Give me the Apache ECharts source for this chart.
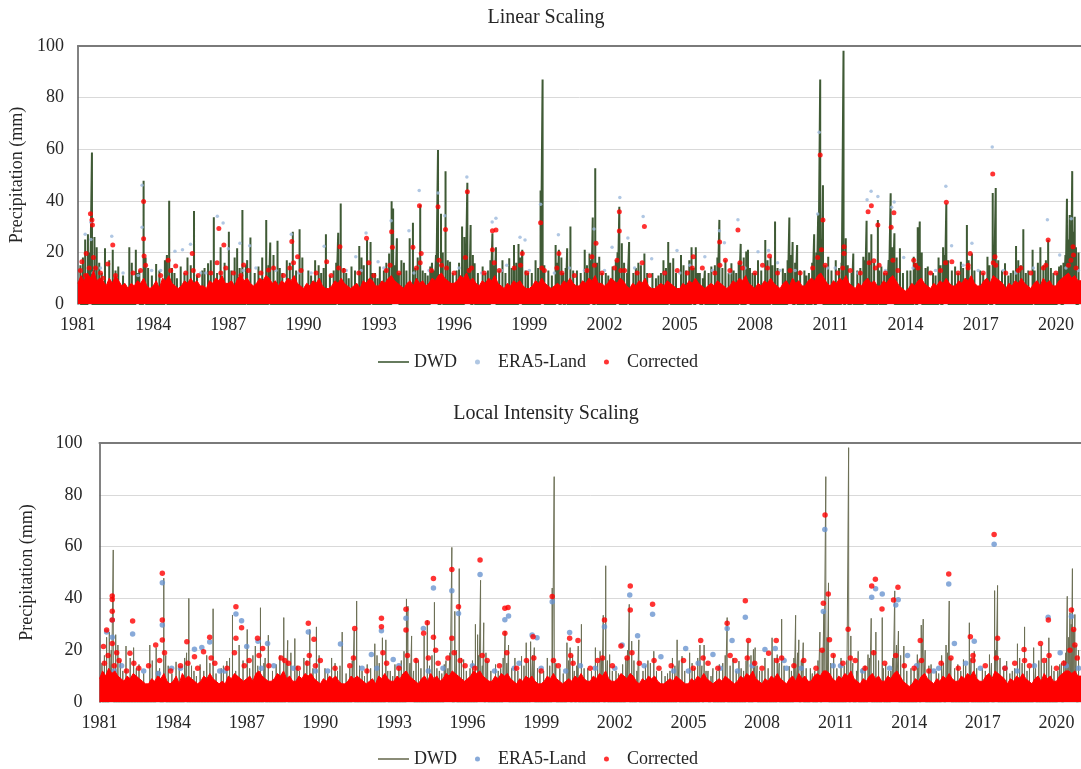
<!DOCTYPE html>
<html>
<head>
<meta charset="utf-8">
<script src="https://cdn.jsdelivr.net/npm/echarts@6/dist/echarts.min.js"></script>
<style>
  html, body { margin: 0; padding: 0; background: #fff; }
  #chart { width: 1081px; height: 769px; }
</style>
</head>
<body>
<div id="chart"></div>
<script>
// x values are years since 1 Jan 1981
const firstYear = 1981

// DWD station daily precipitation, the tall spikes [t, mm]
const dwd = [
  [0.29, 25], [0.40, 27], [0.56, 58.7], [0.66, 26], [0.75, 22], [1.08, 21.6], [1.39, 21], [1.61, 14.5],
  [2.05, 22], [2.31, 21], [2.45, 13], [2.62, 47.8], [2.8, 14], [3.12, 15.5], [3.47, 17], [3.64, 40],
  [3.85, 12], [4.1, 14.5], [4.37, 18], [4.63, 36], [4.96, 13], [5.19, 15.8], [5.42, 33.6], [5.69, 22],
  [6.02, 28], [6.35, 21.6], [6.56, 36.4], [6.7, 15], [6.88, 25.8], [7.2, 14.5], [7.51, 32.6], [7.67, 23.8],
  [7.96, 24.5], [8.15, 12], [8.33, 17], [8.57, 28], [8.84, 29], [9.19, 13], [9.46, 17], [9.7, 12],
  [9.89, 27], [10.2, 13], [10.38, 27.6], [10.48, 39], [10.7, 12], [10.91, 14.5], [11.22, 22.5], [11.31, 18],
  [11.53, 24.8], [11.67, 24], [11.85, 12], [12.04, 14.5], [12.41, 19.6], [12.51, 39.8], [12.57, 37], [12.72, 25.5],
  [12.9, 17], [13.1, 13], [13.23, 25.5], [13.36, 31.5], [13.65, 38.5], [13.85, 12], [14.05, 14.5], [14.2, 13],
  [14.36, 59.7], [14.48, 35], [14.66, 51.5], [14.84, 16.4], [15.1, 13], [15.32, 30], [15.41, 26], [15.53, 47],
  [15.66, 30.6], [15.82, 15.8], [16.14, 14.5], [16.35, 13], [16.53, 27.4], [16.67, 22], [16.93, 17], [17.2, 17.7],
  [17.39, 22.9], [17.57, 23.3], [17.72, 21], [17.95, 12], [18.25, 17], [18.45, 44], [18.53, 87], [18.76, 13],
  [19.05, 22.9], [19.18, 21], [19.35, 12], [19.51, 21.6], [19.64, 30], [19.9, 13], [20.21, 21], [20.4, 19.6],
  [20.53, 33.5], [20.63, 52.6], [20.79, 18.3], [21.05, 12], [21.32, 14.5], [21.59, 37.7], [21.69, 23.5], [21.98, 24],
  [22.15, 12], [22.35, 16], [22.59, 19.6], [22.91, 12], [23.15, 11], [23.35, 17], [23.54, 24], [23.74, 17.7],
  [24.05, 19], [24.25, 13], [24.47, 22], [24.64, 22], [24.8, 12], [25.0, 13], [25.26, 14.5], [25.58, 32.6],
  [25.82, 17], [26.06, 15.8], [26.25, 12], [26.43, 23.3], [26.65, 20.3], [26.72, 21], [26.9, 12], [27.12, 17],
  [27.41, 24.8], [27.62, 18.3], [27.8, 32], [28.11, 13.8], [28.37, 33.5], [28.5, 24], [28.68, 22.9], [28.97, 13],
  [29.15, 12], [29.36, 27], [29.52, 35], [29.6, 87], [29.71, 46], [29.92, 18.3], [30.22, 17], [30.53, 98.2],
  [30.62, 25.5], [30.92, 19.6], [31.08, 13], [31.32, 18.3], [31.45, 32.3], [31.64, 27], [31.9, 32.6], [32.04, 14.5],
  [32.25, 12], [32.41, 42.9], [32.56, 27.4], [32.78, 21.6], [33.07, 13], [33.33, 18.3], [33.49, 29.7], [33.57, 32],
  [33.89, 14.5], [34.1, 12], [34.32, 18], [34.5, 22], [34.63, 39], [34.98, 14.5], [35.21, 16.4], [35.45, 30.6],
  [35.65, 19.6], [35.98, 13], [36.27, 18.3], [36.48, 43], [36.6, 45], [36.97, 15.8], [37.2, 12], [37.41, 22.5],
  [37.7, 29], [37.9, 13], [38.07, 21], [38.38, 22], [38.69, 24.8], [38.9, 12], [39.13, 14.5], [39.3, 16],
  [39.44, 40.8], [39.55, 34.5], [39.65, 51.5], [39.75, 33.8], [39.9, 20]
]

// DWD, the smaller spikes that show above the dense cloud [t, mm]
const dwdMid = [
  [0.1, 15], [0.2, 18], [0.48, 20], [0.85, 16], [0.95, 12], [1.25, 17], [1.5, 13], [1.8, 11], [2.15, 16], [2.38, 12],
  [2.7, 18], [2.95, 11], [3.25, 13], [3.55, 19], [3.75, 14], [3.95, 10], [4.25, 12], [4.5, 15], [4.75, 11], [5.05, 14],
  [5.3, 17], [5.55, 12], [5.85, 16], [6.12, 13], [6.25, 18], [6.45, 14], [6.75, 17], [7.05, 12], [7.35, 18], [7.6, 15],
  [7.8, 19], [8.05, 14], [8.45, 16], [8.7, 13], [8.95, 18], [9.3, 11], [9.6, 15], [9.8, 14], [10.05, 11], [10.3, 16],
  [10.6, 14], [10.8, 10], [11.05, 13], [11.4, 15], [11.75, 12], [11.95, 10], [12.2, 13], [12.3, 16], [12.65, 15], [12.8, 12],
  [13.0, 16], [13.45, 14], [13.55, 18], [13.75, 13], [13.95, 11], [14.12, 16], [14.28, 19], [14.55, 20], [14.75, 17], [14.95, 12],
  [15.2, 16], [15.45, 18], [15.6, 14], [15.75, 19], [15.95, 12], [16.25, 12], [16.45, 17], [16.6, 15], [16.8, 13], [17.05, 12],
  [17.3, 14], [17.48, 16], [17.65, 18], [17.85, 13], [18.1, 12], [18.35, 14], [18.6, 15], [18.9, 11], [19.12, 16], [19.28, 18],
  [19.45, 14], [19.75, 13], [20.05, 12], [20.3, 15], [20.47, 17], [20.7, 16], [20.9, 12], [21.15, 11], [21.45, 17], [21.52, 20],
  [21.78, 16], [21.9, 12], [22.25, 14], [22.45, 15], [22.7, 12], [23.05, 10], [23.25, 12], [23.45, 14], [23.62, 16], [23.85, 12],
  [24.15, 15], [24.38, 17], [24.55, 14], [24.72, 12], [24.92, 10], [25.15, 12], [25.4, 15], [25.5, 18], [25.7, 14], [25.95, 12],
  [26.15, 13], [26.35, 16], [26.55, 18], [26.8, 14], [27.0, 12], [27.25, 13], [27.5, 17], [27.7, 15], [27.9, 14], [28.2, 12],
  [28.3, 17], [28.45, 19], [28.6, 16], [28.8, 13], [29.05, 11], [29.28, 16], [29.45, 20], [29.65, 25], [29.8, 15], [30.05, 13],
  [30.35, 14], [30.45, 16], [30.7, 15], [30.85, 12], [31.2, 14], [31.38, 17], [31.55, 20], [31.75, 16], [31.95, 13], [32.15, 12],
  [32.33, 17], [32.48, 22], [32.65, 18], [32.9, 12], [33.2, 13], [33.4, 16], [33.65, 20], [33.8, 14], [34.2, 11], [34.4, 15],
  [34.56, 19], [34.7, 17], [34.85, 13], [35.1, 12], [35.3, 14], [35.52, 17], [35.75, 13], [36.1, 12], [36.35, 15], [36.52, 20],
  [36.7, 17], [36.85, 13], [37.1, 11], [37.3, 13], [37.5, 17], [37.6, 15], [37.8, 12], [38.15, 13], [38.28, 16], [38.5, 15],
  [38.6, 17], [38.8, 14], [39.05, 12], [39.2, 15], [39.38, 19], [39.5, 25], [39.6, 30], [39.7, 28], [39.8, 22]
]

// ERA5-Land raw values that stand out above the dense cloud [t, mm]
const era5 = [
  [0.29, 27], [0.52, 31.7], [0.52, 25], [1.35, 26.3], [2.56, 46], [2.56, 29.7], [2.94, 13], [3.87, 20.4],
  [4.17, 21], [4.49, 23.2], [5.56, 34], [5.79, 31.4], [6.0, 21.4], [6.46, 23.5], [6.85, 22.6], [8.51, 27],
  [9.82, 22.4], [11.08, 18.3], [11.49, 27.5], [11.97, 16.4], [12.49, 32.3], [13.2, 28.4], [13.61, 44], [14.36, 43],
  [14.63, 34.2], [15.51, 49.2], [16.52, 31.8], [16.67, 33.2], [17.63, 25.9], [17.83, 24.8], [18.45, 38.7], [19.16, 26.8],
  [20.58, 29.1], [21.3, 22], [21.61, 41.3], [21.93, 25.6], [22.54, 33.9], [22.88, 17.5], [23.89, 20.7], [25.0, 18.3],
  [25.58, 28.4], [25.78, 23.7], [26.32, 32.7], [27.12, 20.3], [27.54, 20.7], [29.5, 34.9], [29.56, 66.6], [31.47, 40.4],
  [31.63, 43.7], [31.9, 41.7], [32.45, 37.5], [32.55, 39.5], [32.93, 18], [34.61, 45.6], [34.84, 22.6], [35.65, 23.5],
  [36.46, 60.9], [38.66, 32.7], [39.15, 19], [39.61, 33],
  [0.9, 14], [1.8, 12], [3.3, 13], [4.9, 12], [7.1, 14], [7.9, 13], [9.3, 12], [10.7, 13], [12.2, 14], [14.0, 13],
  [15.2, 14], [16.1, 12], [17.1, 15], [18.0, 13], [19.6, 14], [20.2, 13], [22.2, 14], [23.4, 12], [24.4, 15], [25.3, 13],
  [26.6, 14], [27.9, 16], [28.6, 13], [30.2, 14], [31.1, 12], [33.3, 14], [34.2, 13], [35.3, 15], [36.9, 13], [38.1, 14],
  [0.6, 12], [2.4, 11], [5.1, 12], [6.6, 13], [8.8, 12], [11.3, 13], [13.4, 12], [16.9, 13], [19.0, 12], [21.0, 13],
  [24.0, 12], [26.0, 12], [28.0, 13], [29.9, 14], [32.2, 13], [34.0, 12], [35.9, 13], [37.4, 12], [39.4, 14], [39.9, 13]
]

// Corrected after linear scaling [t, mm]
const corrLS = [
  [0.16, 16.4], [0.33, 19.6], [0.5, 35], [0.56, 32.6], [0.58, 30.6], [1.19, 15.5], [1.39, 22.9], [2.62, 39.7],
  [2.62, 25.3], [2.64, 18.6], [3.6, 17], [3.9, 14.7], [4.56, 19.6], [5.62, 29.3], [5.82, 22.9], [6.61, 15.1],
  [7.6, 13.2], [8.53, 24.2], [8.76, 18.3], [9.92, 16.4], [10.45, 22.2], [11.51, 25.5], [12.51, 28], [12.54, 22],
  [13.36, 22], [13.62, 38.1], [13.69, 19.6], [14.36, 37.7], [14.66, 28.9], [15.53, 43.5], [16.53, 28.4], [16.67, 28.7],
  [16.53, 21], [17.72, 19.6], [18.45, 31.5], [19.18, 19.6], [20.5, 18.3], [20.66, 23.5], [21.59, 35.8], [21.59, 28.3],
  [22.59, 30], [24.54, 18.3], [25.59, 24], [25.82, 17], [26.32, 28.7], [27.58, 18.6], [29.6, 57.8], [29.71, 32.6],
  [30.55, 22.2], [30.55, 19.6], [31.51, 35.8], [31.64, 38.1], [31.74, 16.8], [31.9, 30.6], [32.43, 29.7], [32.54, 35.4],
  [33.33, 17], [34.63, 39.4], [34.85, 16.4], [35.58, 19.6], [36.48, 50.4], [36.57, 18.3], [38.69, 24.8], [39.68, 22.2],
  [0.1, 13], [0.7, 14], [0.9, 12], [1.5, 11], [2.2, 12], [3.3, 11], [3.7, 13], [4.3, 12], [4.8, 11], [5.3, 12],
  [5.9, 14], [6.2, 12], [6.8, 13], [7.3, 12], [7.8, 14], [8.2, 11], [8.9, 13], [9.5, 12], [10.1, 11], [10.6, 13],
  [11.2, 12], [11.8, 11], [12.3, 13], [12.8, 12], [13.5, 14], [14.1, 13], [14.5, 15], [15.0, 12], [15.7, 14], [16.2, 12],
  [16.8, 13], [17.4, 14], [17.9, 12], [18.6, 13], [19.3, 12], [19.8, 11], [20.3, 13], [20.9, 12], [21.4, 14], [21.8, 13],
  [22.3, 12], [22.8, 11], [23.4, 12], [23.9, 13], [24.3, 12], [24.9, 14], [25.4, 12], [26.0, 13], [26.5, 14], [27.0, 12],
  [27.3, 15], [27.9, 12], [28.4, 13], [28.8, 12], [29.3, 14], [29.8, 15], [30.3, 12], [30.8, 13], [31.2, 12], [31.8, 14],
  [32.2, 12], [32.7, 13], [33.5, 14], [34.0, 12], [34.4, 13], [35.1, 12], [35.5, 14], [36.1, 12], [36.6, 15], [37.0, 12],
  [37.5, 13], [38.0, 12], [38.5, 14], [39.0, 12], [39.5, 15], [39.8, 14],
  [0.3, 11], [0.45, 14], [0.62, 18], [1.0, 10], [2.5, 13], [2.7, 15], [4.6, 13], [5.55, 16], [5.7, 12], [6.5, 11],
  [8.45, 14], [8.6, 16], [10.4, 14], [11.6, 16], [12.45, 15], [13.65, 16], [14.4, 17], [14.7, 14], [15.45, 18], [15.6, 13],
  [16.6, 16], [17.65, 15], [18.5, 14], [19.1, 14], [20.6, 15], [21.5, 17], [21.65, 13], [22.5, 16], [24.5, 14], [25.6, 15],
  [26.4, 16], [27.5, 14], [29.5, 18], [29.65, 21], [30.5, 14], [31.55, 16], [31.95, 15], [32.5, 17], [33.4, 15], [34.6, 16],
  [35.5, 15], [36.5, 16], [37.6, 14], [38.6, 15], [39.6, 17], [39.7, 19]
]

// Corrected after local intensity scaling [t, mm]
const corrLOIS = [
  [0.16, 21.4], [0.29, 27.8], [0.52, 40.9], [0.52, 39.6], [0.52, 35], [0.52, 31.7], [0.52, 22.6], [1.24, 18.8],
  [1.35, 31.3], [2.29, 22], [2.56, 49.7], [2.56, 31.7], [2.56, 23.9], [3.56, 23.3], [3.87, 17.5], [4.24, 19.4],
  [4.49, 25], [5.56, 36.8], [5.56, 24.6], [5.79, 28.7], [6.44, 24.6], [6.65, 20.7], [8.47, 15], [8.51, 30.4],
  [8.74, 24.2], [10.4, 28.4], [11.49, 32.3], [11.49, 29.1], [12.49, 35.8], [12.49, 27.8], [13.21, 26.5], [13.36, 30.6],
  [13.61, 47.7], [13.61, 25], [14.36, 51.2], [14.36, 24.6], [14.63, 36.8], [15.51, 54.8], [16.52, 36.2], [16.65, 36.5],
  [16.52, 26.5], [17.67, 25.2], [18.45, 40.7], [19.16, 24.6], [19.5, 23.7], [20.58, 31.7], [21.25, 21.6], [21.63, 44.8],
  [21.63, 35.5], [22.54, 37.7], [24.5, 23.7], [25.58, 30.4], [26.32, 39.1], [26.45, 23.7], [27.27, 18.8], [27.58, 23.7],
  [29.5, 38.1], [29.57, 72.2], [29.7, 41.7], [30.51, 28.1], [31.47, 44.8], [31.62, 47.4], [31.89, 35.9], [32.36, 39.4],
  [32.54, 44.3], [33.45, 23.7], [34.61, 49.4], [35.49, 25.2], [36.46, 64.7], [36.6, 24.6], [37.68, 20.3], [38.35, 22.6],
  [38.67, 31.7], [39.61, 35.5], [39.7, 28],
  [0.2, 15], [0.8, 16], [1.6, 13], [2.0, 14], [2.9, 12], [3.3, 14], [4.0, 13], [4.7, 15], [5.2, 13], [6.1, 16],
  [6.9, 14], [7.4, 17], [7.7, 15], [8.1, 13], [9.0, 16], [9.6, 13], [10.2, 14], [10.9, 12], [11.7, 15], [12.2, 13],
  [12.9, 16], [13.8, 15], [14.2, 17], [14.9, 14], [15.3, 13], [15.8, 16], [16.3, 14], [17.0, 13], [17.4, 16], [18.0, 12],
  [18.7, 14], [19.3, 15], [20.0, 13], [20.3, 16], [20.9, 14], [21.5, 17], [22.0, 15], [22.8, 13], [23.3, 14], [23.8, 16],
  [24.2, 13], [24.8, 15], [25.2, 13], [25.9, 16], [26.7, 15], [27.0, 13], [27.8, 17], [28.3, 14], [28.7, 16], [29.2, 13],
  [29.9, 18], [30.3, 15], [30.8, 16], [31.2, 13], [32.0, 15], [32.8, 14], [33.2, 13], [33.8, 12], [34.3, 15], [35.0, 13],
  [35.6, 16], [36.1, 14], [36.9, 13], [37.3, 15], [37.9, 14], [38.5, 16], [39.0, 13], [39.3, 15], [39.85, 17],
  [0.35, 18], [0.6, 14], [0.7, 19], [1.1, 12], [1.4, 15], [2.45, 16], [2.65, 19], [3.6, 15], [4.55, 17], [5.5, 19],
  [5.9, 14], [6.5, 18], [7.55, 16], [8.55, 18], [8.8, 14], [10.35, 17], [11.55, 19], [12.55, 18], [13.4, 17], [13.7, 20],
  [14.45, 19], [14.7, 16], [15.6, 18], [16.6, 19], [17.7, 17], [18.5, 16], [19.2, 18], [20.5, 17], [21.7, 19], [22.6, 16],
  [24.6, 17], [25.7, 18], [26.4, 17], [27.6, 16], [29.45, 20], [29.75, 24], [30.6, 17], [31.55, 19], [32.45, 18], [33.5, 16],
  [34.7, 17], [35.6, 18], [36.55, 17], [37.7, 16], [38.7, 18], [39.55, 20], [39.75, 22]
]

// upper edge of the dense daily cloud of corrected values, eight values per year
const bandLS = [
  8, 11, 9, 12, 10, 13, 9, 10,   9, 7, 10, 8, 11, 9, 7, 8,   6, 8, 7, 9, 8, 10, 7, 6,   7, 9, 6, 10, 9, 11, 8, 7,
  6, 7, 9, 8, 10, 8, 9, 7,       7, 6, 9, 8, 10, 9, 11, 8,   8, 9, 7, 10, 11, 9, 10, 8,  7, 8, 10, 9, 11, 10, 8, 9,
  7, 9, 8, 10, 9, 11, 8, 7,      6, 8, 7, 9, 8, 10, 7, 6,    6, 7, 9, 8, 10, 8, 7, 6,    7, 8, 6, 9, 8, 10, 9, 7,
  7, 9, 8, 10, 11, 9, 8, 7,      6, 8, 9, 7, 10, 8, 9, 7,    8, 10, 9, 11, 12, 10, 9, 8, 8, 9, 11, 10, 12, 9, 10, 8,
  7, 9, 8, 10, 9, 11, 8, 7,      6, 8, 7, 9, 8, 9, 7, 6,     6, 7, 9, 8, 10, 8, 7, 6,    7, 8, 7, 9, 8, 10, 8, 7,
  7, 9, 8, 10, 9, 11, 8, 8,      7, 8, 10, 9, 8, 10, 9, 7,   6, 8, 7, 9, 8, 10, 7, 6,    6, 7, 8, 7, 9, 8, 7, 6,
  6, 8, 7, 9, 8, 10, 8, 7,       6, 7, 8, 7, 9, 8, 7, 6,     7, 9, 8, 10, 9, 11, 8, 7,   6, 8, 7, 9, 8, 10, 8, 7,
  6, 8, 9, 7, 10, 8, 9, 7,       7, 9, 10, 9, 11, 12, 10, 8, 7, 9, 8, 10, 9, 11, 8, 7,   6, 8, 7, 9, 10, 8, 9, 7,
  7, 9, 8, 10, 11, 9, 7, 6,      5, 6, 8, 7, 9, 10, 8, 7,    6, 8, 7, 9, 8, 10, 8, 7,    7, 9, 8, 10, 9, 11, 8, 7,
  7, 9, 10, 8, 11, 10, 9, 8,     6, 8, 7, 9, 8, 10, 8, 7,    6, 8, 9, 7, 10, 8, 9, 7,    7, 9, 10, 11, 12, 10, 11, 9,
  9
]
const bandLOIS = [
  9, 12, 10, 13, 11, 12, 10, 9,  8, 10, 9, 11, 10, 9, 8, 7,  7, 9, 8, 10, 9, 11, 8, 7,   8, 10, 7, 11, 9, 10, 9, 8,
  7, 8, 10, 9, 11, 9, 8, 7,      8, 7, 10, 9, 11, 10, 9, 8,  9, 10, 8, 11, 12, 10, 9, 8, 8, 9, 11, 10, 12, 9, 10, 8,
  8, 10, 9, 11, 10, 11, 9, 8,    7, 9, 8, 10, 9, 10, 8, 7,   7, 8, 10, 9, 10, 9, 8, 7,   8, 9, 7, 10, 9, 11, 9, 8,
  8, 10, 9, 11, 12, 10, 9, 8,    7, 9, 10, 8, 11, 9, 10, 8,  9, 11, 10, 12, 11, 10, 9, 8, 9, 10, 12, 11, 12, 10, 9, 8,
  8, 10, 9, 11, 10, 11, 9, 8,    7, 9, 8, 10, 9, 10, 8, 7,   7, 8, 10, 9, 11, 9, 8, 7,   8, 9, 8, 10, 9, 11, 9, 8,
  8, 10, 9, 11, 10, 12, 9, 8,    8, 9, 11, 10, 9, 11, 10, 8, 7, 9, 8, 10, 9, 10, 8, 7,   7, 8, 9, 8, 10, 9, 8, 7,
  7, 9, 8, 10, 9, 11, 9, 8,      7, 8, 9, 8, 10, 9, 8, 7,    8, 10, 9, 11, 10, 12, 9, 8, 7, 9, 8, 10, 9, 11, 9, 8,
  7, 9, 10, 8, 11, 9, 10, 8,     8, 10, 11, 10, 12, 12, 11, 9, 8, 10, 9, 11, 10, 12, 9, 8, 7, 9, 8, 10, 11, 9, 10, 8,
  8, 10, 9, 11, 12, 10, 8, 7,    6, 7, 9, 8, 10, 11, 9, 8,   7, 9, 8, 10, 9, 11, 9, 8,   8, 10, 9, 11, 10, 12, 9, 8,
  8, 10, 11, 9, 12, 11, 10, 9,   7, 9, 8, 10, 9, 11, 9, 8,   7, 9, 10, 8, 11, 9, 10, 8,  8, 10, 11, 12, 12, 11, 12, 10,
  10
]

const serif = "'Liberation Serif', 'Times New Roman', serif"
const txt = '#262626'

// each event becomes a thin vertical stroke from zero
function toSpikes(list) {
  let out = []
  list.slice().sort((a, b) => a[0] - b[0]).forEach(([t, v]) => {
    out.push([t - 0.003, 0], [t, v], [t + 0.003, 0])
  })
  return out
}
function toBand(list) {
  return list.map((v, i) => [i / 8, v])
}

function panelAxes(idx) {
  return {
    x: [
      {
        gridIndex: idx, type: 'value', min: 0, max: 40, interval: 3,
        axisLine: { show: false }, axisTick: { show: false }, splitLine: { show: false },
        axisLabel: {
          showMaxLabel: false, margin: 12, color: txt, fontFamily: serif, fontSize: 18,
          formatter: v => String(firstYear + v)
        }
      },
      {
        gridIndex: idx, type: 'value', min: 0, max: 40, position: 'top',
        axisLine: { show: true, lineStyle: { color: '#7a7a7a', width: 2 } },
        axisTick: { show: false }, axisLabel: { show: false }, splitLine: { show: false }
      }
    ],
    y: {
      gridIndex: idx, type: 'value', min: 0, max: 100, interval: 20,
      name: 'Precipitation (mm)', nameLocation: 'middle', nameGap: idx === 0 ? 40 : 63,
      nameTextStyle: { color: txt, fontFamily: serif, fontSize: 18 },
      axisLine: { show: true, lineStyle: { color: '#595959', width: 1.5 } },
      axisTick: { show: false },
      splitLine: { lineStyle: { color: '#d9d9d9', width: 1 } },
      axisLabel: { margin: idx === 0 ? 14 : 17, color: txt, fontFamily: serif, fontSize: 18 }
    }
  }
}

const upperAxes = panelAxes(0)
const lowerAxes = panelAxes(1)

const dwdTop = { color: '#3f5a35', width: 2 }
const dwdBottom = { color: '#6c6f55', width: 1 }
const dwdAll = dwd.concat(dwdMid)

function legendFor(topPx, dwdStyle, eraColor) {
  return {
    left: 373, top: topPx, itemWidth: 31, itemHeight: 5, itemGap: 18,
    textStyle: { color: txt, fontFamily: serif, fontSize: 18 },
    data: [
      { name: 'DWD', icon: 'path://M0,0L31,0L31,1.6L0,1.6Z', itemStyle: { color: dwdStyle.color } },
      { name: 'ERA5-Land', icon: 'circle', itemStyle: { color: eraColor } },
      { name: 'Corrected', icon: 'circle', itemStyle: { color: '#ff0000' } }
    ]
  }
}

const option = {
  animation: false,
  backgroundColor: '#fff',
  title: [
    { text: 'Linear Scaling', left: 546, top: 8, textAlign: 'center', padding: 0,
      textStyle: { color: txt, fontFamily: serif, fontSize: 20, fontWeight: 'normal' } },
    { text: 'Local Intensity Scaling', left: 546, top: 404, textAlign: 'center', padding: 0,
      textStyle: { color: txt, fontFamily: serif, fontSize: 20, fontWeight: 'normal' } }
  ],
  legend: [
    legendFor(348, dwdTop, '#9cb9dc'),
    legendFor(745, dwdBottom, '#6a95cf')
  ],
  grid: [
    { left: 77, right: -4, top: 46, bottom: 465 },
    { left: 99.5, right: -4.5, top: 443, bottom: 67 }
  ],
  xAxis: [upperAxes.x[0], upperAxes.x[1], lowerAxes.x[0], lowerAxes.x[1]],
  yAxis: [upperAxes.y, lowerAxes.y],
  series: [
    // upper panel
    { name: 'DWD', type: 'line', xAxisIndex: 0, yAxisIndex: 0, data: toSpikes(dwdAll),
      symbol: 'none', lineStyle: dwdTop, z: 2 },
    { name: 'ERA5-Land', type: 'scatter', xAxisIndex: 0, yAxisIndex: 0, data: era5,
      symbolSize: 3.5, itemStyle: { color: '#9cb9dc' }, z: 3 },
    { name: 'Corrected band', type: 'line', xAxisIndex: 0, yAxisIndex: 0, data: toBand(bandLS),
      symbol: 'none', lineStyle: { color: '#ff0000', width: 1 }, areaStyle: { color: '#ff0000', opacity: 1 }, z: 4 },
    { name: 'Corrected', type: 'scatter', xAxisIndex: 0, yAxisIndex: 0, data: corrLS,
      symbolSize: 5, itemStyle: { color: '#ff0000' }, z: 5 },
    // lower panel
    { name: 'DWD', type: 'line', xAxisIndex: 2, yAxisIndex: 1, data: toSpikes(dwdAll),
      symbol: 'none', lineStyle: dwdBottom, z: 2 },
    { name: 'ERA5-Land', type: 'scatter', xAxisIndex: 2, yAxisIndex: 1, data: era5,
      symbolSize: 5.5, itemStyle: { color: '#6a95cf' }, z: 3 },
    { name: 'Corrected band', type: 'line', xAxisIndex: 2, yAxisIndex: 1, data: toBand(bandLOIS),
      symbol: 'none', lineStyle: { color: '#ff0000', width: 1 }, areaStyle: { color: '#ff0000', opacity: 1 }, z: 4 },
    { name: 'Corrected', type: 'scatter', xAxisIndex: 2, yAxisIndex: 1, data: corrLOIS,
      symbolSize: 5.5, itemStyle: { color: '#ff0000' }, z: 5 }
  ]
}

const chart = echarts.init(document.getElementById('chart'))
chart.setOption(option)
</script>
</body>
</html>
